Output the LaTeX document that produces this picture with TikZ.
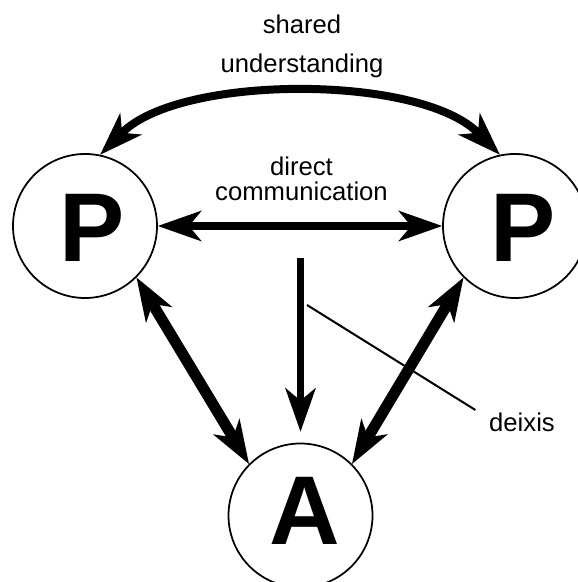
\documentclass[tikz,border=0pt]{standalone}
\usepackage{fontspec}
\setmainfont{Liberation Sans}
\usetikzlibrary{arrows.meta}

\begin{document}
\begin{tikzpicture}[
  >={Stealth[length=0.88cm,width=0.62cm,inset=0.26cm,line width=0pt]},
  agent/.style={circle,draw=black,line width=1pt,minimum size=2.88cm,inner sep=0pt},
  letter/.style={font=\fontsize{55.6}{60}\selectfont\bfseries,inner sep=0pt},
  caption/.style={font=\fontsize{14.6}{14.2}\selectfont,align=center,inner sep=0pt},
  link/.style={draw=black,line width=0.15cm,<->},
  pointer/.style={draw=black,line width=0.04cm}
]
\useasboundingbox (0,0) rectangle (11.56,11.64);
% P -- P -- A
\node[agent,label={[letter,xshift=0.14cm,yshift=-0.04cm]center:P}] (pl) at (1.70,7.12) {};
\node[agent,label={[letter,xshift=0.16cm,yshift=-0.04cm]center:P}] (pr) at (10.30,7.12) {};
\node[agent,label={[letter,xshift=0.09cm,yshift=0.1cm]center:A}] (a) at (6.01,1.33) {};
% labels
\node[caption] (shared) at (6.04,10.72) {shared\\[8pt]understanding};
\node[caption] (direct) at (6.03,8.07) {direct\\communication};
\node[caption,inner sep=0.1cm] (deixis) at (10.44,3.2) {deixis};
% arrows
\draw[link,line width=0.16cm] (pl.78) to[out=45,in=135,looseness=0.73] (pr.102);
\draw[link] (pl) -- (pr);
\draw[link,line width=0.22cm] (pl.south east) -- (a.north west);
\draw[link,line width=0.22cm] (pr.south west) -- (a.north east);
\coordinate (dstart) at (6.01,6.48);
\draw[line width=0.15cm,->,shorten >=0.22cm] (dstart) -- (a.north);
% deixis
\coordinate (dxstart) at (6.14,5.54);
\draw[pointer,shorten >=0.2cm] (dxstart) -- (deixis.170);
\end{tikzpicture}
\end{document}
